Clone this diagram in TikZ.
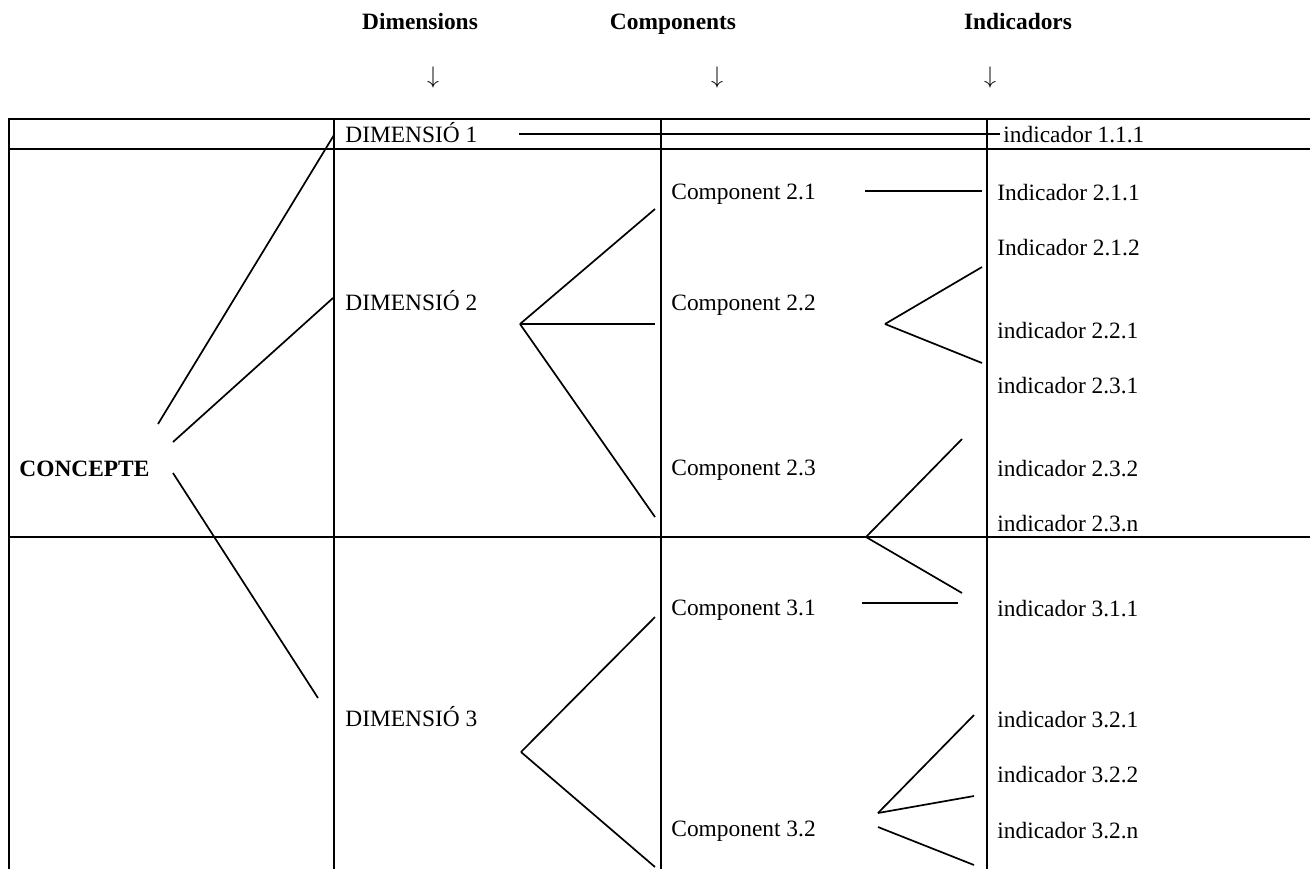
\documentclass[tikz,border=0pt]{standalone}
\usepackage{fontspec}
\setmainfont{Liberation Serif}
\usetikzlibrary{positioning}

\tikzset{
    txt/.style={anchor=base west, inner sep=0pt, font=\fontsize{11.7}{14}\selectfont},
    head/.style={anchor=base, inner sep=0pt, font=\fontsize{11.7}{14}\selectfont\bfseries},
    arr/.style={inner sep=0pt, font=\fontsize{12.5}{14}\selectfont},
    grid/.style={line width=1.1pt},
    link/.style={line width=0.85pt}
}

\begin{document}
\begin{tikzpicture}[x=0.5pt, y=-0.5pt]
        \useasboundingbox (0,0) rectangle (1310,869);

        % headings
        \node[head] (HD) at (420,29) {Dimensions};
        \node[head] (HC) at (673,29) {Components};
        \node[head] (HI) at (1018,29) {Indicadors};
        \node[arr] (AD) at (433,77) {$\downarrow$};
        \node[arr] (AC) at (717,77) {$\downarrow$};
        \node[arr] (AI) at (990,77) {$\downarrow$};

        % table
        \draw[grid] (9,869) -- (9,119) -- (1310,119);
        \foreach \y in {149,537}
            \draw[grid] (9,\y) -- (1310,\y);
        \foreach \x in {334,661,987}
            \draw[grid] (\x,119) -- (\x,869);

        % texts
        \node[txt, font=\fontsize{11.7}{14}\selectfont\bfseries] (K) at (19,476) {CONCEPTE};
        \node[txt] (D1) at (345,142) {DIMENSIÓ 1};
        \node[txt] (D2) at (345,310) {DIMENSIÓ 2};
        \node[txt] (D3) at (345,726) {DIMENSIÓ 3};
        \node[txt] (C21) at (671,199) {Component 2.1};
        \node[txt] (C22) at (671,310) {Component 2.2};
        \node[txt] (C23) at (671,475) {Component 2.3};
        \node[txt] (C31) at (671,615) {Component 3.1};
        \node[txt] (C32) at (671,836) {Component 3.2};
        \node[txt] (I111) at (1003,142) {indicador 1.1.1};
        \node[txt] (I211) at (997,200) {Indicador 2.1.1};
        \node[txt] (I212) at (997,255) {Indicador 2.1.2};
        \node[txt] (I221) at (997,338) {indicador 2.2.1};
        \node[txt] (I231) at (997,393) {indicador 2.3.1};
        \node[txt] (I232) at (997,476) {indicador 2.3.2};
        \node[txt] (I23n) at (997,531) {indicador 2.3.n};
        \node[txt] (I311) at (997,616) {indicador 3.1.1};
        \node[txt] (I321) at (997,727) {indicador 3.2.1};
        \node[txt] (I322) at (997,782) {indicador 3.2.2};
        \node[txt] (I32n) at (997,838) {indicador 3.2.n};

        % concept -> dimensions
        \coordinate (Ka) at (158,424);
        \coordinate (Kb) at (173,442);
        \coordinate (Kc) at (173,473);
        \coordinate (D1e) at (334,135);
        \coordinate (D2e) at (333,298);
        \coordinate (D3e) at (318,698);
        \draw[link] (Ka) -- (D1e);
        \draw[link] (Kb) -- (D2e);
        \draw[link] (Kc) -- (D3e);

        % dimension 1
        \coordinate (D1a) at (519,134);
        \coordinate (D1b) at (1000,134);
        \draw[link] (D1a) -- (D1b);

        % dimension 2 -> components
        \coordinate (V2) at (520,324);
        \foreach \n/\y in {a/209,b/324,c/517} {
            \coordinate (V2\n) at (655,\y);
            \draw[link] (V2) -- (V2\n);
        }

        % dimension 3 -> components
        \coordinate (V3) at (521,752);
        \foreach \n/\y in {a/617,b/867} {
            \coordinate (V3\n) at (655,\y);
            \draw[link] (V3) -- (V3\n);
        }

        % components -> indicators
        \coordinate (C21a) at (865,191);
        \coordinate (C21b) at (982,191);
        \draw[link] (C21a) -- (C21b);

        \coordinate (V22) at (885,324);
        \foreach \n/\y in {a/267,b/363} {
            \coordinate (V22\n) at (982,\y);
            \draw[link] (V22) -- (V22\n);
        }

        \coordinate (V23) at (866,537);
        \foreach \n/\y in {a/439,b/537,c/593} {
            \coordinate (V23\n) at (962,\y);
            \draw[link] (V23) -- (V23\n);
        }

        \coordinate (C31a) at (862,603);
        \coordinate (C31b) at (958,603);
        \draw[link] (C31a) -- (C31b);

        \coordinate (V32) at (878,813);
        \foreach \n/\y in {a/715,b/796} {
            \coordinate (V32\n) at (974,\y);
            \draw[link] (V32) -- (V32\n);
        }
        \coordinate (V32c) at (878,827);
        \coordinate (V32d) at (974,865);
        \draw[link] (V32c) -- (V32d);
\end{tikzpicture}
\end{document}
